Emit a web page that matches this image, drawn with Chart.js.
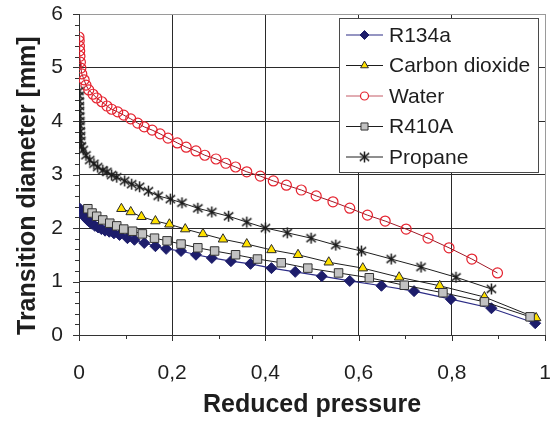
<!DOCTYPE html>
<html>
<head>
<meta charset="utf-8">
<script src="https://cdn.jsdelivr.net/npm/chart.js@4/dist/chart.umd.min.js"></script>
<style>
  html, body { margin: 0; padding: 0; background: #ffffff; }
  #wrap { width: 552px; height: 421px; position: relative; }
</style>
</head>
<body>
<div id="wrap"><canvas id="chart"></canvas></div>
<script>
// Series names, in legend order
const seriesNames = ['R134a', 'Carbon dioxide', 'Water', 'R410A', 'Propane'];

// Reduced pressure (x) and transition diameter in mm (y) for each fluid
const r134aX = [0.002, 0.004, 0.007, 0.010, 0.014, 0.018, 0.023, 0.028, 0.034, 0.041, 0.048, 0.056, 0.065, 0.075,
                0.087, 0.104, 0.119, 0.140, 0.164, 0.187, 0.219, 0.251, 0.285, 0.326, 0.368, 0.413, 0.464, 0.521,
                0.581, 0.649, 0.719, 0.798, 0.885, 0.979];
const r134aY = [2.36, 2.31, 2.27, 2.23, 2.19, 2.15, 2.11, 2.08, 2.04, 2.01, 1.98, 1.95, 1.93, 1.90,
                1.87, 1.81, 1.78, 1.72, 1.66, 1.61, 1.57, 1.50, 1.44, 1.38, 1.33, 1.25, 1.18, 1.10,
                1.01, 0.92, 0.82, 0.67, 0.50, 0.22];

const co2X = [0.091, 0.111, 0.134, 0.164, 0.194, 0.228, 0.266, 0.309, 0.360, 0.413, 0.470, 0.536, 0.609, 0.687,
              0.774, 0.870, 0.981];
const co2Y = [2.36, 2.30, 2.21, 2.13, 2.07, 1.98, 1.89, 1.79, 1.70, 1.59, 1.50, 1.36, 1.25, 1.08,
              0.92, 0.71, 0.32];

const waterX = [0.000, 0.0005, 0.001, 0.0015, 0.002, 0.003, 0.004, 0.006, 0.011, 0.015, 0.021, 0.030, 0.038, 0.049,
                0.060, 0.070, 0.083, 0.096, 0.111, 0.126, 0.140, 0.157, 0.174, 0.191, 0.211, 0.230, 0.251, 0.270,
                0.294, 0.315, 0.336, 0.360, 0.389, 0.417, 0.445, 0.477, 0.509, 0.545, 0.581, 0.619, 0.657, 0.702,
                0.749, 0.794, 0.843, 0.898];
const waterY = [5.57, 5.50, 5.40, 5.31, 5.21, 5.10, 4.99, 4.88, 4.77, 4.67, 4.58, 4.50, 4.43, 4.36,
                4.28, 4.22, 4.17, 4.11, 4.04, 3.96, 3.89, 3.83, 3.76, 3.68, 3.59, 3.51, 3.44, 3.36,
                3.29, 3.21, 3.14, 3.05, 2.97, 2.88, 2.80, 2.71, 2.60, 2.49, 2.37, 2.24, 2.13, 1.98,
                1.81, 1.63, 1.42, 1.16];

const r410aX = [0.019, 0.028, 0.038, 0.051, 0.066, 0.081, 0.096, 0.115, 0.136, 0.162, 0.189, 0.219, 0.255, 0.291,
                0.336, 0.383, 0.434, 0.491, 0.557, 0.623, 0.698, 0.781, 0.870, 0.968];
const r410aY = [2.36, 2.28, 2.22, 2.15, 2.09, 2.04, 1.98, 1.94, 1.89, 1.81, 1.76, 1.70, 1.63, 1.57,
                1.50, 1.42, 1.35, 1.25, 1.16, 1.07, 0.93, 0.79, 0.62, 0.34];

const propaneX = [0.000, 0.0003, 0.0006, 0.001, 0.0013, 0.0016, 0.002, 0.0025, 0.003, 0.0035, 0.004, 0.005,
                  0.009, 0.015, 0.023, 0.032, 0.040, 0.051, 0.060, 0.070, 0.081, 0.098, 0.113, 0.130, 0.149,
                  0.170, 0.196, 0.221, 0.255, 0.285, 0.321, 0.360, 0.400, 0.447, 0.498, 0.551, 0.606, 0.670,
                  0.734, 0.809, 0.885];
const propaneY = [4.56, 4.47, 4.37, 4.28, 4.19, 4.09, 4.00, 3.91, 3.81, 3.72, 3.63, 3.53,
                  3.46, 3.36, 3.27, 3.20, 3.14, 3.08, 3.05, 2.99, 2.95, 2.88, 2.82, 2.77, 2.69,
                  2.60, 2.54, 2.47, 2.37, 2.30, 2.22, 2.11, 2.00, 1.91, 1.81, 1.68, 1.57, 1.42,
                  1.27, 1.08, 0.86];

// Axis ticks and their labels
const xTickValues = [0, 0.2, 0.4, 0.6, 0.8, 1];
const xTickLabels = ['0', '0,2', '0,4', '0,6', '0,8', '1'];
const yTickValues = [0, 1, 2, 3, 4, 5, 6];
const yTickLabels = ['0', '1', '2', '3', '4', '5', '6'];

const FONT = "'Liberation Sans', Arial, Helvetica, sans-serif";
const TEXT = '#1e1e1e';

const toPoints = (xs, ys) => xs.map((x, i) => ({ x: x, y: ys[i] }));

// Asterisk marker: a vertical bar crossed by an X
function asteriskMarker(size, color, lw) {
  const c = document.createElement('canvas');
  c.width = size; c.height = size;
  const g = c.getContext('2d');
  const m = size / 2, r = size / 2 - 1;
  g.strokeStyle = color; g.lineWidth = lw; g.lineCap = 'butt';
  g.beginPath();
  g.moveTo(m, m - r); g.lineTo(m, m + r);
  g.moveTo(m - r * 0.85, m - r * 0.7); g.lineTo(m + r * 0.85, m + r * 0.7);
  g.moveTo(m + r * 0.85, m - r * 0.7); g.lineTo(m - r * 0.85, m + r * 0.7);
  g.stroke();
  return c;
}
const propaneMarker = asteriskMarker(13, '#1c1c1c', 1.5);

const datasets = [
  { label: seriesNames[0], data: toPoints(r134aX, r134aY), borderColor: '#2c2c86', borderWidth: 1.2,
    pointStyle: 'rectRot', pointRadius: 5.5, pointBackgroundColor: '#1d1d6b', pointBorderColor: '#1d1d6b',
    pointBorderWidth: 1, order: 5 },
  { label: seriesNames[1], data: toPoints(co2X, co2Y), borderColor: '#1e1e1e', borderWidth: 1,
    pointStyle: 'triangle', pointRadius: 5.5, pointBackgroundColor: '#ffe100', pointBorderColor: '#2a2a2a',
    pointBorderWidth: 1, order: 4 },
  { label: seriesNames[2], data: toPoints(waterX, waterY), borderColor: '#a01826', borderWidth: 1,
    pointStyle: 'circle', pointRadius: 5, pointBackgroundColor: 'rgba(255,255,255,0)', pointBorderColor: '#e5222e',
    pointBorderWidth: 1.2, order: 3 },
  { label: seriesNames[3], data: toPoints(r410aX, r410aY), borderColor: '#1e1e1e', borderWidth: 1,
    pointStyle: 'rect', pointRadius: 6, pointBackgroundColor: '#c2c2c2', pointBorderColor: '#333333',
    pointBorderWidth: 1, order: 2 },
  { label: seriesNames[4], data: toPoints(propaneX, propaneY), borderColor: '#1e1e1e', borderWidth: 1,
    pointStyle: propaneMarker, pointRadius: 5, pointBackgroundColor: '#202020', pointBorderColor: '#202020',
    pointBorderWidth: 1, order: 1 }
];
datasets.forEach(d => { d.showLine = true; d.tension = 0; d.fill = false; });

// Minor and major tick marks on both axes
const tickMarks = {
  id: 'tickMarks',
  afterDraw(chart) {
    const { ctx, scales: { x, y } } = chart;
    ctx.save();
    ctx.strokeStyle = '#333333';
    ctx.lineWidth = 1;
    ctx.beginPath();
    for (let k = 0; k <= 10; k++) {
      const px = Math.round(x.getPixelForValue(k / 10)) + 0.5;
      const len = k % 2 === 0 ? 6 : 4;
      ctx.moveTo(px, y.bottom);
      ctx.lineTo(px, y.bottom + len);
    }
    for (let k = 0; k <= 30; k++) {
      const py = Math.round(y.getPixelForValue(k / 5)) + 0.5;
      const len = k % 5 === 0 ? 6 : 4;
      ctx.moveTo(x.left - len, py);
      ctx.lineTo(x.left, py);
    }
    ctx.stroke();
    ctx.restore();
  }
};

// Boxed legend inside the plot area
const boxLegend = {
  id: 'boxLegend',
  afterDraw(chart) {
    const { ctx } = chart;
    const bx = 339.5, by = 18.5, bw = 199, bh = 154;
    ctx.save();
    ctx.fillStyle = '#ffffff';
    ctx.fillRect(bx, by, bw, bh);
    ctx.strokeStyle = '#4a4a4a';
    ctx.lineWidth = 1;
    ctx.strokeRect(bx, by, bw, bh);
    chart.data.datasets.forEach((ds, i) => {
      const cy = 35 + i * 30.5;
      ctx.strokeStyle = i === 2 ? '#c45a66' : ds.borderColor;
      ctx.lineWidth = ds.borderWidth;
      ctx.beginPath();
      ctx.moveTo(346, cy);
      ctx.lineTo(383, cy);
      ctx.stroke();
      ctx.fillStyle = i === 2 ? '#ffffff' : ds.pointBackgroundColor;
      ctx.strokeStyle = ds.pointBorderColor;
      ctx.lineWidth = ds.pointBorderWidth;
      const r = i === 4 ? ds.pointRadius : ds.pointRadius - 1;
      Chart.helpers.drawPoint(ctx, {
        pointStyle: ds.pointStyle, rotation: 0, radius: r, borderWidth: ds.pointBorderWidth
      }, 364.5, cy);
      ctx.fillStyle = TEXT;
      ctx.font = '21px ' + FONT;
      ctx.textAlign = 'left';
      ctx.textBaseline = 'middle';
      ctx.fillText(ds.label, 389, cy + 1);
    });
    ctx.restore();
  }
};

new Chart(document.getElementById('chart'), {
  type: 'scatter',
  data: { datasets: datasets },
  options: {
    responsive: true,
    maintainAspectRatio: false,
    devicePixelRatio: 1,
    animation: false,
    events: [],
    layout: { padding: { left: 0, top: 14, right: 4, bottom: 0 } },
    plugins: { legend: { display: false }, tooltip: { enabled: false } },
    scales: {
      x: {
        type: 'linear', min: 0, max: 1,
        afterBuildTicks: s => { s.ticks = xTickValues.map(v => ({ value: v })); },
        afterFit: s => { s.height = 86; s.paddingLeft = 0; s.paddingRight = 0; },
        ticks: {
          callback: (v, i) => xTickLabels[i], autoSkip: false, maxRotation: 0,
          padding: 26, color: TEXT, font: { family: FONT, size: 21 }
        },
        grid: {
          drawTicks: false, lineWidth: 1,
          color: c => (c.tick && c.tick.value === 1 ? '#9a9a9a' : '#2a2a2a')
        },
        border: { color: '#333333', width: 1 },
        title: {
          display: true, text: 'Reduced pressure', color: TEXT,
          font: { family: FONT, size: 25, weight: 'bold' }, padding: { top: 0, bottom: 1 }
        }
      },
      y: {
        type: 'linear', min: 0, max: 6,
        afterBuildTicks: s => { s.ticks = yTickValues.map(v => ({ value: v })); },
        afterFit: s => { s.width = 79; s.paddingTop = 0; s.paddingBottom = 0; },
        ticks: {
          callback: (v, i) => yTickLabels[i], autoSkip: false,
          padding: 16, color: TEXT, font: { family: FONT, size: 21 }
        },
        grid: {
          drawTicks: false, lineWidth: 1,
          color: c => (c.tick && c.tick.value === 6 ? '#9a9a9a' : '#2a2a2a')
        },
        border: { color: '#333333', width: 1 },
        title: {
          display: true, text: 'Transition diameter [mm]', color: TEXT, align: 'start',
          font: { family: FONT, size: 25, weight: 'bold' }, padding: { top: 13, bottom: 0 }
        }
      }
    }
  },
  plugins: [tickMarks, boxLegend]
});
</script>
</body>
</html>
